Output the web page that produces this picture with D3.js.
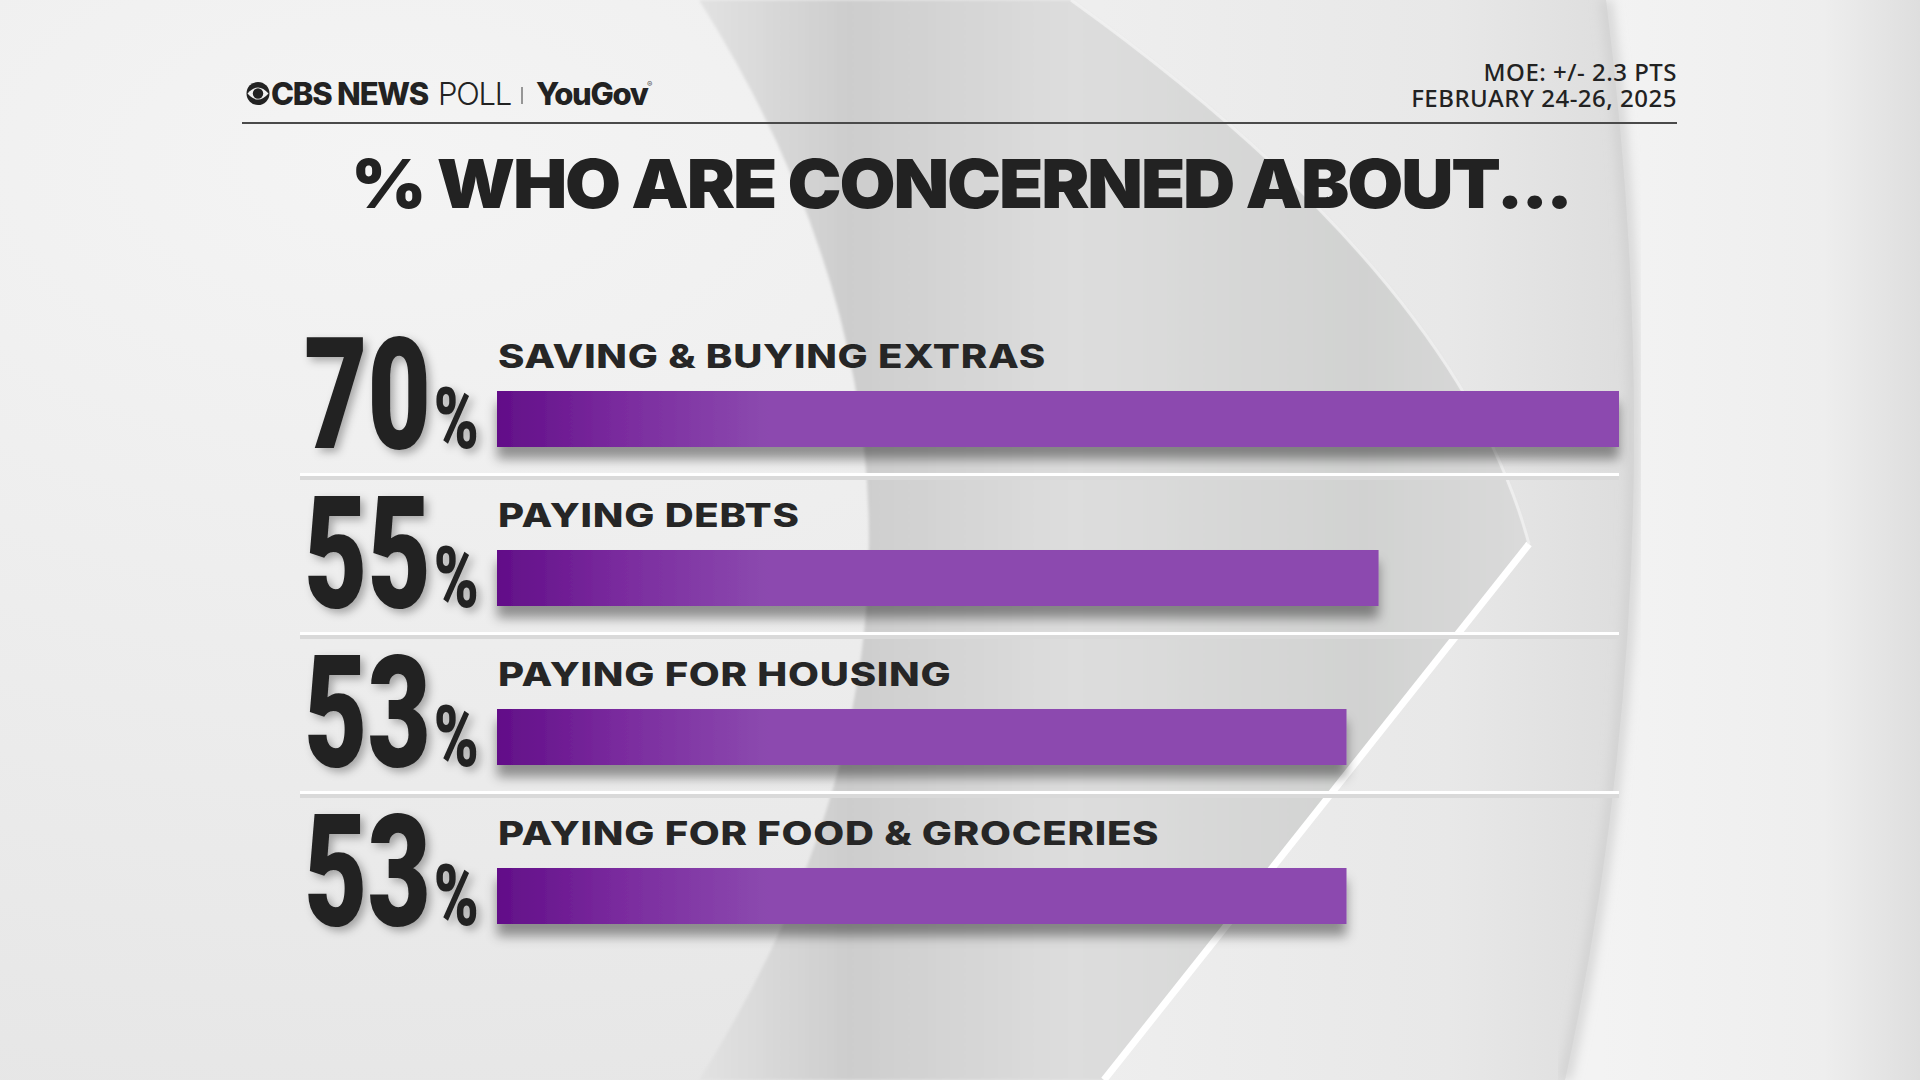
<!DOCTYPE html>
<html>
<head>
<meta charset="utf-8">
<script src="https://cdn.jsdelivr.net/npm/d3@7/dist/d3.min.js"></script>
<style>
  html, body { margin: 0; padding: 0; background: #ededed; }
  svg { display: block; }
</style>
</head>
<body>
<script>
//chart values
const categories = ["SAVING & BUYING EXTRAS", "PAYING DEBTS", "PAYING FOR HOUSING", "PAYING FOR FOOD & GROCERIES"];
const values = [70, 55, 53, 53];
const title = "% WHO ARE CONCERNED ABOUT...";
const infoLines = ["MOE: +/- 2.3 PTS", "FEBRUARY 24-26, 2025"];

window.onload = drawChart();

function drawChart() {
    let width = 1920,
        height = 1080;

    let svg = d3.select("body")
        .append("svg")
        .attr("width", width)
        .attr("height", height);

    let defs = svg.append("defs");

    //bar gradient, dark purple on the left fading to flat purple
    let barGrad = defs.append("linearGradient")
        .attr("id", "barGrad")
        .attr("gradientUnits", "userSpaceOnUse")
        .attr("x1", 497).attr("x2", 770)
        .attr("y1", 0).attr("y2", 0);
    barGrad.append("stop").attr("offset", "0%").attr("stop-color", "#620e88");
    barGrad.append("stop").attr("offset", "45%").attr("stop-color", "#7a2b9e");
    barGrad.append("stop").attr("offset", "100%").attr("stop-color", "#8c4aaf");

    //background gradients
    let bgGrad = defs.append("radialGradient")
        .attr("id", "bgGrad")
        .attr("cx", "20%").attr("cy", "15%").attr("r", "90%");
    bgGrad.append("stop").attr("offset", "0%").attr("stop-color", "#f4f4f4");
    bgGrad.append("stop").attr("offset", "100%").attr("stop-color", "#e6e6e6");

    let lensGrad = defs.append("linearGradient")
        .attr("id", "lensGrad")
        .attr("gradientUnits", "userSpaceOnUse")
        .attr("x1", 700).attr("x2", 1530).attr("y1", 0).attr("y2", 0);
    lensGrad.append("stop").attr("offset", "0%").attr("stop-color", "#e2e2e2");
    lensGrad.append("stop").attr("offset", "18%").attr("stop-color", "#cdcdcd");
    lensGrad.append("stop").attr("offset", "45%").attr("stop-color", "#dddddd");
    lensGrad.append("stop").attr("offset", "80%").attr("stop-color", "#d1d2d1");
    lensGrad.append("stop").attr("offset", "100%").attr("stop-color", "#dadada");

    let midGrad = defs.append("linearGradient")
        .attr("id", "midGrad")
        .attr("gradientUnits", "userSpaceOnUse")
        .attr("x1", 1100).attr("x2", 1680).attr("y1", 0).attr("y2", 0);
    midGrad.append("stop").attr("offset", "0%").attr("stop-color", "#eeeeee");
    midGrad.append("stop").attr("offset", "60%").attr("stop-color", "#e8e8e8");
    midGrad.append("stop").attr("offset", "100%").attr("stop-color", "#dadada");

    let rightGrad = defs.append("linearGradient")
        .attr("id", "rightGrad")
        .attr("gradientUnits", "userSpaceOnUse")
        .attr("x1", 1600).attr("x2", 1920).attr("y1", 0).attr("y2", 0);
    rightGrad.append("stop").attr("offset", "0%").attr("stop-color", "#f3f3f3");
    rightGrad.append("stop").attr("offset", "70%").attr("stop-color", "#eeeeee");
    rightGrad.append("stop").attr("offset", "100%").attr("stop-color", "#dedede");

    //shadows
    let barShadow = defs.append("filter").attr("id", "barShadow")
        .attr("x", "-5%").attr("y", "-30%").attr("width", "110%").attr("height", "190%");
    barShadow.append("feDropShadow")
        .attr("dx", 0).attr("dy", 12).attr("stdDeviation", 6)
        .attr("flood-color", "#000").attr("flood-opacity", 0.4);

    let numShadow = defs.append("filter").attr("id", "numShadow")
        .attr("x", "-20%").attr("y", "-20%").attr("width", "150%").attr("height", "150%");
    numShadow.append("feDropShadow")
        .attr("dx", 4).attr("dy", 4).attr("stdDeviation", 4)
        .attr("flood-color", "#000").attr("flood-opacity", 0.3);

    let blur = defs.append("filter").attr("id", "soft");
    blur.append("feGaussianBlur").attr("stdDeviation", 6);

    let edgeBlur = defs.append("filter").attr("id", "edge");
    edgeBlur.append("feGaussianBlur").attr("stdDeviation", 1.5);

    //background
    let bg = svg.append("g").attr("class", "background");
    bg.append("rect").attr("width", width).attr("height", height).attr("fill", "url(#bgGrad)");
    bg.append("path")
        .attr("d", "M1606,0 L1920,0 L1920,1080 L1565,1080 Q1678,562 1606,0 Z")
        .attr("fill", "url(#rightGrad)");
    bg.append("path")
        .attr("d", "M1071,0 L1606,0 Q1678,562 1565,1080 L1104,1080 L1529,544 Q1458,278 1071,0 Z")
        .attr("fill", "url(#midGrad)");
    bg.append("path")
        .attr("d", "M699,0 L1071,0 Q1458,278 1529,544 L1104,1080 L699,1080 Q1039,540 699,0 Z")
        .attr("fill", "url(#lensGrad)")
        .attr("filter", "url(#edge)");
    bg.append("path")
        .attr("d", "M1606,0 Q1678,562 1565,1080")
        .attr("fill", "none").attr("stroke", "#cfcfcf").attr("stroke-width", 10)
        .attr("filter", "url(#soft)");
    bg.append("path")
        .attr("d", "M1529,544 L1104,1080")
        .attr("fill", "none").attr("stroke", "#ffffff").attr("stroke-width", 7);
    bg.append("path")
        .attr("d", "M1071,0 Q1458,278 1529,544")
        .attr("fill", "none").attr("stroke", "#f4f4f4").attr("stroke-width", 3)
        .attr("opacity", 0.7);

    //header
    let header = svg.append("g").attr("class", "header");
    header.append("circle").attr("cx", 258).attr("cy", 93.5).attr("r", 11.5).attr("fill", "#222");
    header.append("path")
        .attr("d", "M247.5,93.5 Q258,81.5 268.5,93.5 Q258,105.5 247.5,93.5 Z")
        .attr("fill", "#f1f1f1");
    header.append("circle").attr("cx", 258).attr("cy", 93.5).attr("r", 5.2).attr("fill", "#222");

    let logo = header.append("text")
        .attr("x", 271).attr("y", 105)
        .attr("font-family", "Inter, 'Noto Sans', sans-serif")
        .attr("font-size", 31)
        .attr("letter-spacing", -1.2)
        .attr("fill", "#222");
    logo.append("tspan").attr("font-weight", 800).text("CBS NEWS");
    logo.append("tspan").attr("font-weight", 300).attr("dx", 10).text("POLL");

    header.append("line")
        .attr("x1", 522).attr("x2", 522).attr("y1", 87).attr("y2", 104)
        .attr("stroke", "#777").attr("stroke-width", 1.5);

    header.append("text")
        .attr("x", 536).attr("y", 105)
        .attr("font-family", "Inter, 'Noto Sans', sans-serif")
        .attr("font-size", 31)
        .attr("font-weight", 800)
        .attr("letter-spacing", -1.3)
        .attr("fill", "#222")
        .text("YouGov");
    header.append("text")
        .attr("x", 647).attr("y", 87)
        .attr("font-family", "Inter, sans-serif")
        .attr("font-size", 8)
        .attr("fill", "#555")
        .text("®");

    //margin of error and dates, right aligned, one block
    let info = header.append("text")
        .attr("text-anchor", "end")
        .attr("font-family", "'Noto Sans', sans-serif")
        .attr("font-size", 24)
        .attr("font-weight", 500)
        .attr("letter-spacing", 0.5)
        .attr("fill", "#222");
    info.selectAll("tspan")
        .data(infoLines)
        .enter()
        .append("tspan")
        .attr("x", 1677)
        .attr("y", (d, i) => 81 + i * 26)
        .text(d => d);

    header.append("line")
        .attr("x1", 242).attr("x2", 1677).attr("y1", 123).attr("y2", 123)
        .attr("stroke", "#4a4a4a").attr("stroke-width", 2);

    //title
    svg.append("text")
        .attr("x", 351).attr("y", 208)
        .attr("textLength", 1220)
        .attr("lengthAdjust", "spacingAndGlyphs")
        .attr("font-family", "Inter, Roboto, sans-serif")
        .attr("font-size", 68)
        .attr("font-weight", 900)
        .attr("letter-spacing", -2)
        .attr("fill", "#222")
        .text(title);

    //scales
    let x = d3.scaleLinear()
        .domain([0, 70])
        .range([497, 1619]);

    let y = d3.scalePoint()
        .domain(categories)
        .range([391, 868]);

    let barH = 56;

    let rows = svg.selectAll(".row")
        .data(categories.map((c, i) => ({ cat: c, val: values[i], i: i })))
        .enter()
        .append("g")
        .attr("class", "row");

    //separators under rows
    rows.filter(d => d.i < categories.length - 1)
        .append("rect")
        .attr("x", 300).attr("width", 1319)
        .attr("y", d => y(d.cat) + barH + 29)
        .attr("height", 4)
        .attr("fill", "#d9d9d9");
    rows.filter(d => d.i < categories.length - 1)
        .append("rect")
        .attr("x", 300).attr("width", 1319)
        .attr("y", d => y(d.cat) + barH + 26)
        .attr("height", 3)
        .attr("fill", "#ffffff");

    rows.append("rect")
        .attr("class", "bar")
        .attr("x", x(0))
        .attr("y", d => y(d.cat))
        .attr("width", d => x(d.val) - x(0))
        .attr("height", barH)
        .attr("fill", "url(#barGrad)")
        .attr("filter", "url(#barShadow)");

    //category labels, stretched to the wide broadcast face
    let labels = rows.append("text")
        .attr("class", "label")
        .attr("y", d => y(d.cat) - 23)
        .attr("font-family", "Inter, 'Noto Sans', sans-serif")
        .attr("font-size", 32)
        .attr("font-weight", 800)
        .attr("letter-spacing", 0.6)
        .attr("fill", "#262626")
        .text(d => d.cat);
    let firstW = labels.node().getComputedTextLength();
    let lk = 548 / firstW;
    labels.attr("transform", `translate(${x(0) + 1},0) scale(${lk},1)`);

    //big percentages: number and small % sign in one text, squeezed
    let nums = rows.append("g").attr("filter", "url(#numShadow)");
    let numText = nums.append("text")
        .attr("y", d => y(d.cat) + barH + 1)
        .attr("font-family", "Roboto, Inter, sans-serif")
        .attr("font-weight", 900)
        .attr("fill", "#222");
    numText.append("tspan").attr("font-size", 155).text(d => d.val);
    numText.append("tspan").attr("font-size", 86).attr("dx", 4).text("%");
    numText.each(function () {
        let w = this.getComputedTextLength();
        d3.select(this).attr("transform", `translate(304,0) scale(${172 / w},1)`);
    });
}
</script>
</body>
</html>
